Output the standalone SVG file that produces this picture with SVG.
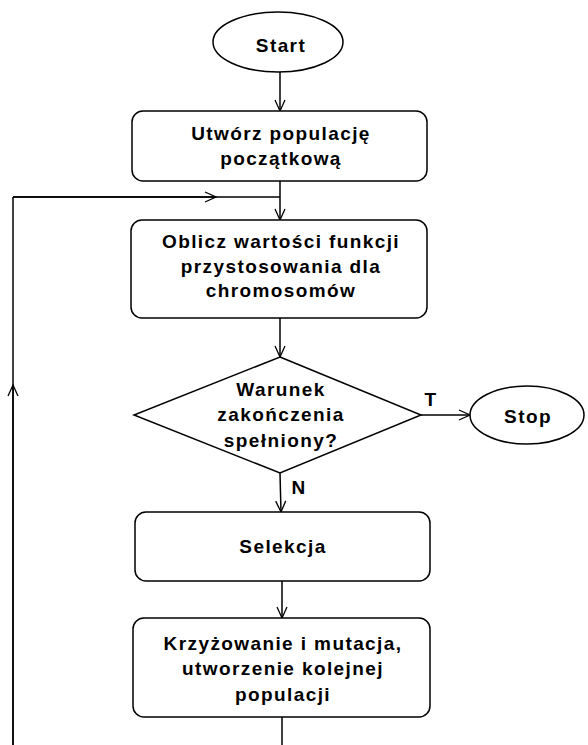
<svg xmlns="http://www.w3.org/2000/svg" width="588" height="745" viewBox="0 0 588 745">
<style>
.s{fill:#fff;stroke:#000;stroke-width:1.5}
.c{fill:none;stroke:#000;stroke-width:1.5}
text{font-family:"Liberation Sans",Arial,sans-serif;font-weight:bold;font-size:19px;letter-spacing:1.4px;fill:#000;text-anchor:middle}
</style>
<defs>
<marker id="a" markerUnits="userSpaceOnUse" markerWidth="16" markerHeight="16" refX="0" refY="0" viewBox="-12 -8 16 16" orient="auto" overflow="visible">
<path d="M-11,-5 L0,0 L-11,5" fill="none" stroke="#000" stroke-width="1.3"/>
</marker>
</defs>
<rect width="588" height="745" fill="#fff"/>
<g id="connectors">
<line class="c" x1="280" y1="72" x2="280" y2="111" marker-end="url(#a)"/>
<line class="c" x1="280" y1="181" x2="280" y2="220" marker-end="url(#a)"/>
<line class="c" x1="13" y1="197" x2="280" y2="197"/>
<line class="c" x1="13" y1="197" x2="216" y2="197" marker-end="url(#a)"/>
<line class="c" x1="13" y1="745" x2="13" y2="197"/>
<line class="c" x1="13" y1="745" x2="13" y2="385" marker-end="url(#a)"/>
<line class="c" x1="280" y1="318" x2="280" y2="357" marker-end="url(#a)"/>
<line class="c" x1="421" y1="415" x2="470" y2="415" marker-end="url(#a)"/>
<line class="c" x1="280" y1="473" x2="281" y2="512" marker-end="url(#a)"/>
<line class="c" x1="282" y1="581" x2="282" y2="618" marker-end="url(#a)"/>
<line class="c" x1="282" y1="717" x2="282" y2="745"/>
<text x="431" y="406">T</text>
<text x="299" y="494">N</text>
</g>
<g id="start">
<ellipse class="s" cx="278" cy="42" rx="65" ry="30"/>
<text x="281" y="52">Start</text>
</g>
<g id="init">
<rect class="s" x="132" y="111" width="295" height="70" rx="11"/>
<text x="281" y="140">Utwórz populację</text>
<text x="281" y="165">początkową</text>
</g>
<g id="fitness">
<rect class="s" x="131" y="220" width="296" height="98" rx="11"/>
<text x="281" y="248">Oblicz wartości funkcji</text>
<text x="281" y="273">przystosowania dla</text>
<text x="281" y="297">chromosomów</text>
</g>
<g id="cond">
<polygon class="s" points="280,357 421,415 280,473 134,415"/>
<text x="281" y="396">Warunek</text>
<text x="281" y="421">zakończenia</text>
<text x="281" y="447">spełniony?</text>
</g>
<g id="stop">
<ellipse class="s" cx="527" cy="415" rx="57" ry="29"/>
<text x="528" y="423">Stop</text>
</g>
<g id="selection">
<rect class="s" x="135" y="512" width="295" height="69" rx="11"/>
<text x="283" y="553">Selekcja</text>
</g>
<g id="crossover">
<rect class="s" x="133" y="618" width="297" height="99" rx="11"/>
<text x="283" y="650">Krzyżowanie i mutacja,</text>
<text x="283" y="675">utworzenie kolejnej</text>
<text x="283" y="701">populacji</text>
</g>
</svg>
